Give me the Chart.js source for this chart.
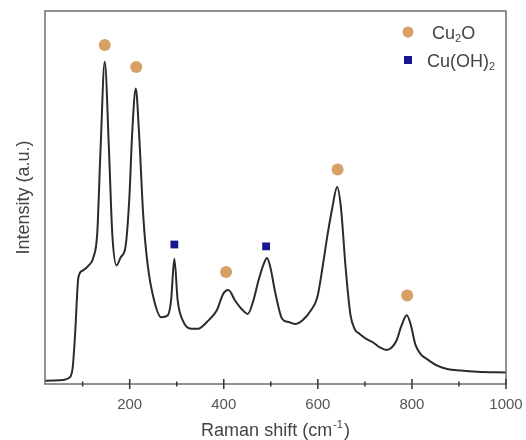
<!DOCTYPE html>
<html>
<head>
<meta charset="utf-8">
<script src="https://cdn.jsdelivr.net/npm/chart.js@4.4.1/dist/chart.umd.min.js"></script>
<style>
  html, body { margin: 0; padding: 0; background: #fff; }
  #wrap { width: 526px; height: 440px; }
</style>
</head>
<body>
<div id="wrap"><canvas id="raman"></canvas></div>
<script>
// Raman spectrum (intensity in arbitrary units, 0-100 of the frame)
const ramanShift = [20, 50, 73, 79, 84, 91, 100, 113, 123, 131, 138, 147, 156, 163, 172, 181, 191, 199, 206, 213,
  220, 229, 238, 252, 267, 281, 288, 295, 302, 313, 331, 345, 367, 385, 399, 410, 424, 438, 451, 463,
  474, 485, 492, 499, 510, 524, 538, 553, 567, 585, 599, 610, 621, 631, 641, 649, 659, 669, 678, 689,
  703, 717, 732, 746, 757, 767, 778, 789, 798, 807, 818, 832, 854, 875, 904, 939, 1000];
const intensity = [0.9, 1.0, 1.8, 4.5, 13.4, 28.6, 30.4, 31.8, 34, 40.3, 62.7, 86.4, 62.7, 40.3, 31.8, 34, 36.7, 49.2, 68.9, 79.2,
  67.1, 44.8, 32.2, 22.4, 17.9, 18.4, 22.4, 33.6, 22.4, 17, 14.8, 14.8, 17, 19.7, 24.2, 25.2, 22.4, 20.1, 18.8, 22.4,
  27.8, 32.2, 33.8, 31.3, 24.2, 17.5, 16.6, 16.1, 17, 19.7, 23.3, 31.3, 40.3, 47.4, 52.8, 47.4, 31.3, 18.8, 14.8, 13.4,
  12.1, 11.2, 9.8, 9.1, 9.8, 11.6, 15.7, 18.4, 15.7, 10.7, 8.1, 6.7, 4.9, 4.0, 3.6, 3.3, 3.1];

// peak markers
const cu2oShift = [147, 214, 405, 642, 790];
const cu2oMark = [90.9, 85.0, 30.0, 57.5, 23.7];
const cuoh2Shift = [295, 490];
const cuoh2Mark = [37.4, 36.9];

const xTicks = [200, 400, 600, 800, 1000];
const xMinorTicks = [100, 300, 500, 700, 900];

const lineColor = '#2b2b2b';
const cu2oColor = '#d9a066';
const cuoh2Color = '#16168f';
const textColor = '#444';

function toPoints(xs, ys) {
  return xs.map((x, i) => ({ x: x, y: ys[i] }));
}

// frame, crossing tick marks, x title and legend
const decorations = {
  id: 'decorations',
  afterDraw(chart) {
    const ctx = chart.ctx;
    const area = chart.chartArea;
    const xs = chart.scales.x;
    ctx.save();

    // box round the plot
    ctx.strokeStyle = '#6e6e6e';
    ctx.lineWidth = 1.5;
    ctx.strokeRect(area.left, area.top, area.right - area.left, area.bottom - area.top);

    // ticks crossing the bottom axis
    ctx.strokeStyle = '#333';
    ctx.lineWidth = 1.5;
    xTicks.forEach(v => {
      const px = xs.getPixelForValue(v);
      ctx.beginPath();
      ctx.moveTo(px, area.bottom - 5);
      ctx.lineTo(px, area.bottom + 5);
      ctx.stroke();
    });
    xMinorTicks.forEach(v => {
      const px = xs.getPixelForValue(v);
      ctx.beginPath();
      ctx.moveTo(px, area.bottom - 2.5);
      ctx.lineTo(px, area.bottom + 2.5);
      ctx.stroke();
    });

    // x axis title with superscript
    ctx.fillStyle = textColor;
    ctx.textBaseline = 'middle';
    ctx.textAlign = 'left';
    const big = '18px "Liberation Sans", Arial, sans-serif';
    const small = '11px "Liberation Sans", Arial, sans-serif';
    ctx.font = big;
    const t1 = 'Raman shift (cm';
    const t3 = ')';
    const w1 = ctx.measureText(t1).width;
    const w3 = ctx.measureText(t3).width;
    ctx.font = small;
    const t2 = '-1';
    const w2 = ctx.measureText(t2).width + 2;
    const total = w1 + w2 + w3;
    let tx = (area.left + area.right) / 2 - total / 2;
    const ty = 431;
    ctx.font = big;
    ctx.fillText(t1, tx, ty);
    ctx.font = small;
    ctx.fillText(t2, tx + w1 + 1, ty - 6);
    ctx.font = big;
    ctx.fillText(t3, tx + w1 + w2, ty);

    // legend
    const lx = 408;
    ctx.fillStyle = cu2oColor;
    ctx.beginPath();
    ctx.arc(lx, 32, 5.5, 0, Math.PI * 2);
    ctx.fill();
    ctx.fillStyle = cuoh2Color;
    ctx.fillRect(lx - 4, 60 - 4, 8, 8);

    ctx.fillStyle = textColor;
    let x = 432;
    ctx.font = big;
    ctx.fillText('Cu', x, 34);
    x += ctx.measureText('Cu').width;
    ctx.font = small;
    ctx.fillText('2', x, 39);
    x += ctx.measureText('2').width;
    ctx.font = big;
    ctx.fillText('O', x, 34);

    x = 427;
    ctx.fillText('Cu(OH)', x, 62);
    x += ctx.measureText('Cu(OH)').width;
    ctx.font = small;
    ctx.fillText('2', x, 67);

    ctx.restore();
  }
};

new Chart(document.getElementById('raman'), {
  type: 'line',
  data: {
    datasets: [
      {
        label: 'Spectrum',
        data: toPoints(ramanShift, intensity),
        borderColor: lineColor,
        borderWidth: 2,
        pointRadius: 0,
        fill: false,
        cubicInterpolationMode: 'monotone'
      },
      {
        label: 'Cu2O',
        type: 'scatter',
        data: toPoints(cu2oShift, cu2oMark),
        pointStyle: 'circle',
        pointRadius: 6,
        backgroundColor: cu2oColor,
        borderColor: cu2oColor,
        borderWidth: 0
      },
      {
        label: 'Cu(OH)2',
        type: 'scatter',
        data: toPoints(cuoh2Shift, cuoh2Mark),
        pointStyle: 'rect',
        pointRadius: 5.5,
        backgroundColor: cuoh2Color,
        borderColor: cuoh2Color,
        borderWidth: 0
      }
    ]
  },
  options: {
    responsive: true,
    maintainAspectRatio: false,
    animation: false,
    layout: { padding: { top: 11, right: 20, left: 0, bottom: 0 } },
    plugins: {
      legend: { display: false },
      tooltip: { enabled: false }
    },
    scales: {
      x: {
        type: 'linear',
        min: 20,
        max: 1000,
        border: { display: false },
        grid: { display: false, drawTicks: false },
        afterBuildTicks: scale => { scale.ticks = xTicks.map(v => ({ value: v })); },
        afterFit: scale => {
          scale.height = 56;
          scale.paddingLeft = 0;
          scale.paddingRight = 0;
        },
        ticks: {
          color: '#555',
          padding: 12,
          maxRotation: 0,
          callback: v => String(v),
          font: { size: 15, family: '"Liberation Sans", Arial, sans-serif' }
        }
      },
      y: {
        min: 0,
        max: 100,
        border: { display: false },
        grid: { display: false, drawTicks: false },
        ticks: { display: false },
        afterFit: scale => { scale.width = 45; },
        title: {
          display: true,
          text: 'Intensity (a.u.)',
          color: textColor,
          padding: { top: 13, bottom: 0 },
          font: { size: 18, family: '"Liberation Sans", Arial, sans-serif' }
        }
      }
    }
  },
  plugins: [decorations]
});
</script>
</body>
</html>
